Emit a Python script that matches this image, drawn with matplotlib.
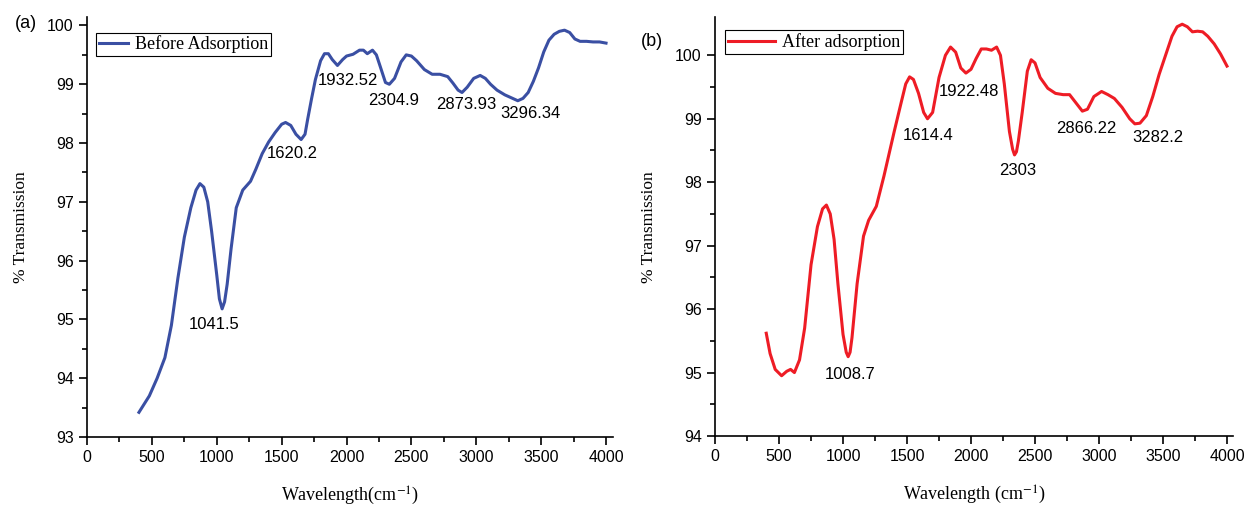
import matplotlib.pyplot as plt

plt.rcParams['mathtext.fontset'] = 'stix'

# before adsorption (blue)
wn_before = [400, 480, 540, 600, 650, 700, 750, 800, 840, 870, 900, 930, 960, 1000, 1020, 1041,
             1060, 1080, 1110, 1150, 1200, 1260, 1300, 1350, 1400, 1450, 1500, 1530, 1570, 1610,
             1650, 1680, 1700, 1730, 1760, 1800, 1830, 1860, 1890, 1930, 1970, 2000, 2050, 2100,
             2130, 2160, 2200, 2230, 2260, 2300, 2330, 2370, 2420, 2460, 2500, 2540, 2600,
             2660, 2720, 2780, 2820, 2860, 2890, 2930, 2980, 3030, 3070, 3110, 3160, 3220,
             3270, 3320, 3360, 3400, 3440, 3480, 3520, 3560, 3600, 3640, 3680, 3720, 3760,
             3800, 3850, 3900, 3950, 4000]
tr_before = [93.42, 93.70, 94.00, 94.35, 94.90, 95.70, 96.40, 96.90, 97.20, 97.31, 97.25,
             97.00, 96.50, 95.75, 95.35, 95.18, 95.30, 95.60, 96.20, 96.90, 97.20, 97.35, 97.55,
             97.82, 98.02, 98.18, 98.32, 98.35, 98.30, 98.15, 98.06, 98.15, 98.40, 98.75, 99.08,
             99.40, 99.52, 99.52, 99.42, 99.32, 99.42, 99.48, 99.51, 99.58, 99.58, 99.52, 99.58,
             99.50, 99.30, 99.03, 99.00, 99.10, 99.38, 99.50, 99.48, 99.40, 99.25, 99.17,
             99.17, 99.13, 99.02, 98.90, 98.86, 98.95, 99.10, 99.15, 99.10, 99.00, 98.90,
             98.82, 98.77, 98.72, 98.76, 98.86, 99.05, 99.28, 99.55, 99.75, 99.85, 99.90,
             99.92, 99.88, 99.77, 99.73, 99.73, 99.72, 99.72, 99.70]

# after adsorption (red)
wn_after = [400, 430, 470, 520, 560, 590, 620, 660, 700, 750, 800, 840, 870, 900, 930, 960,
            1000, 1025, 1040, 1055, 1070, 1110, 1160, 1200, 1260, 1320, 1400, 1450, 1490, 1520,
            1550, 1590, 1630, 1660, 1700, 1750, 1800, 1840, 1880, 1920, 1960, 2000, 2040, 2080,
            2120, 2160, 2200, 2230, 2260, 2300, 2325, 2340, 2355, 2370, 2400, 2440, 2470, 2500,
            2540, 2600, 2660, 2720, 2770, 2820, 2870, 2910, 2960, 3020, 3070, 3120, 3180, 3240,
            3280, 3320, 3370, 3420, 3470, 3520, 3570, 3610, 3650, 3690, 3730, 3770, 3810,
            3850, 3900, 3950, 4000]
tr_after = [95.62, 95.30, 95.05, 94.95, 95.02, 95.05, 95.00, 95.20, 95.70, 96.70, 97.30,
            97.58, 97.64, 97.50, 97.10, 96.40, 95.60, 95.32, 95.25, 95.32, 95.55, 96.40, 97.15,
            97.40, 97.62, 98.10, 98.80, 99.22, 99.55, 99.66, 99.62, 99.40, 99.10, 99.00, 99.10,
            99.65, 100.00, 100.13, 100.05, 99.80, 99.72, 99.78, 99.95, 100.10, 100.10,
            100.08, 100.13, 100.00, 99.55, 98.80, 98.52, 98.43, 98.48, 98.65, 99.10, 99.75,
            99.93, 99.88, 99.65, 99.48, 99.40, 99.38, 99.38, 99.25, 99.12, 99.15, 99.35, 99.43,
            99.38, 99.32, 99.18, 99.00, 98.92, 98.93, 99.05, 99.35, 99.70, 100.00, 100.30,
            100.45, 100.49, 100.45, 100.37, 100.38, 100.37, 100.30, 100.18, 100.02, 99.83]

peaks_before = ['1041.5', '1620.2', '1932.52', '2304.9', '2873.93', '3296.34']
peaks_before_xy = [(980, 94.92), (1580, 97.82), (2012, 99.07), (2365, 98.72), (2920, 98.66), (3420, 98.5)]
peaks_after = ['1008.7', '1614.4', '1922.48', '2303', '2866.22', '3282.2']
peaks_after_xy = [(1055, 94.97), (1664, 98.73), (1984, 99.43), (2367, 98.19), (2898, 98.85), (3461, 98.71)]

blue = '#3a4fa3'
red = '#ee1c25'

fig = plt.figure(figsize=(12.49, 5.07), dpi=100)
ax1 = fig.add_axes([0.0697, 0.138, 0.4207, 0.828])
ax2 = fig.add_axes([0.5725, 0.140, 0.4150, 0.826])

def style(ax, ylo, yhi):
    ax.set_xlim(0, 4050)
    ax.set_ylim(ylo, yhi)
    ax.spines['top'].set_visible(False)
    ax.spines['right'].set_visible(False)
    for s in ['left', 'bottom']:
        ax.spines[s].set_linewidth(1.2)
    ax.set_xticks(range(0, 4001, 500))
    ax.set_xticks(range(250, 4001, 500), minor=True)
    ax.set_yticks(range(int(ylo), 101))
    ax.set_yticks([v + 0.5 for v in range(int(ylo), 100)], minor=True)
    ax.tick_params(which='major', direction='out', length=6, width=1.2,
                   labelsize=11.5, labelfontfamily='Liberation Sans')
    ax.tick_params(which='minor', direction='out', length=3.5, width=1.2)
    ax.set_ylabel('% Transmission', family='Liberation Serif', fontsize=12.5, labelpad=13)

style(ax1, 93, 100.14)
ax1.plot(wn_before, tr_before, color=blue, lw=2.2, label='Before Adsorption')
for t, (x, y) in zip(peaks_before, peaks_before_xy):
    ax1.text(x, y, t, ha='center', va='center', fontsize=12, family='Liberation Sans')
ax1.set_xlabel('Wavelength(cm$^{-1}$)', family='Liberation Serif', fontsize=13, labelpad=14)
ax1.legend(loc='upper left', bbox_to_anchor=(0.0, 0.985), frameon=True, fancybox=False,
           edgecolor='black', framealpha=1, handlelength=1.6, borderpad=0.15,
           handletextpad=0.4, prop={'family': 'Liberation Serif', 'size': 13})
ax1.legend_.get_frame().set_linewidth(0.8)
fig.text(0.012, 0.945, '(a)', fontsize=13, family='Liberation Sans')

style(ax2, 94, 100.6)
ax2.plot(wn_after, tr_after, color=red, lw=2.2, label='After adsorption')
for t, (x, y) in zip(peaks_after, peaks_after_xy):
    ax2.text(x, y, t, ha='center', va='center', fontsize=12, family='Liberation Sans')
ax2.set_xlabel('Wavelength (cm$^{-1}$)', family='Liberation Serif', fontsize=13, labelpad=14)
ax2.legend(loc='upper left', bbox_to_anchor=(0.002, 0.99), frameon=True, fancybox=False,
           edgecolor='black', framealpha=1, handlelength=2.6, borderpad=0.15,
           handletextpad=0.4, prop={'family': 'Liberation Serif', 'size': 13})
ax2.legend_.get_frame().set_linewidth(0.8)
fig.text(0.513, 0.91, '(b)', fontsize=13, family='Liberation Sans')

fig.savefig('out.png', dpi=100)
